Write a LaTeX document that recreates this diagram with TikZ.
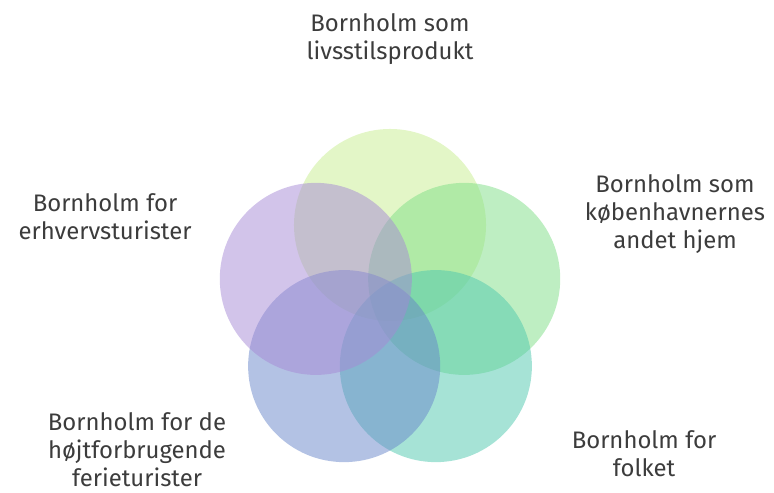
\documentclass[tikz,border=0pt]{standalone}
\usepackage{fontspec}
\setmainfont{Fira Sans}

\definecolor{limefill}{HTML}{C8EE90}
\definecolor{greenfill}{HTML}{7EDE86}
\definecolor{tealfill}{HTML}{4EC8AE}
\definecolor{bluefill}{HTML}{6886C9}
\definecolor{purplefill}{HTML}{A689D6}
\definecolor{textgray}{HTML}{3C3C3C}

\begin{document}
\begin{tikzpicture}[x=0.025cm, y=0.025cm,
    bubble/.style={circle, minimum size=4.8cm, inner sep=0pt, fill opacity=0.5},
    caption/.style={align=center, text=textgray, inner sep=0pt,
        font=\fontsize{17}{20}\selectfont}]
    \useasboundingbox (0,0) rectangle (774,492);
    \coordinate (centre) at (390,189);

    % fem cirkler i en femkant
    \node[bubble, fill=limefill]   (livsstil)  at ([shift={(90:78)}]centre)  {};
    \node[bubble, fill=greenfill]  (hjem)      at ([shift={(18:78)}]centre)  {};
    \node[bubble, fill=tealfill]   (folket)    at ([shift={(-54:78)}]centre) {};
    \node[bubble, fill=bluefill]   (ferie)     at ([shift={(234:78)}]centre) {};
    \node[bubble, fill=purplefill] (erhverv)   at ([shift={(162:78)}]centre) {};

    \node[caption] (livsstil text) at (390,453) {Bornholm som\\livsstilsprodukt};
    \node[caption] (hjem text)     at (675,278) {Bornholm som\\københavnernes\\andet hjem};
    \node[caption] (folket text)   at (644,38)  {Bornholm for\\folket};
    \node[caption] (ferie text)    at (137,42)  {Bornholm for de\\højtforbrugende\\ferieturister};
    \node[caption] (erhverv text)  at (105,275) {Bornholm for\\erhvervsturister};
\end{tikzpicture}
\end{document}
